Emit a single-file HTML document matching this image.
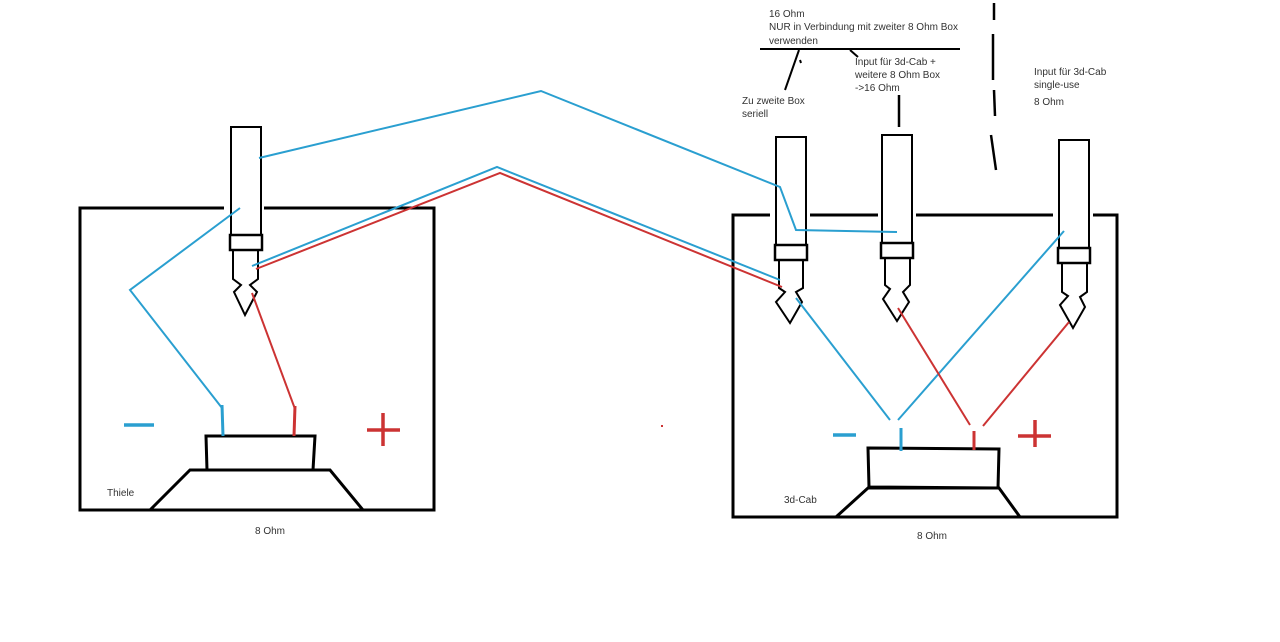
<!DOCTYPE html>
<html><head><meta charset="utf-8"><style>
html,body{margin:0;padding:0;background:#fff;}
svg{display:block;}
text{font-family:"Liberation Sans",sans-serif;font-size:10px;fill:#333;}
</style></head><body>
<svg width="1280" height="642" viewBox="0 0 1280 642" xmlns="http://www.w3.org/2000/svg">
<g fill="none" stroke="#000" stroke-width="3" stroke-linejoin="miter">
<!-- left box -->
<polyline points="224,208 80,208 80,510 434,510 434,208 264,208"/>
<!-- left jack -->
<rect x="231" y="127" width="30" height="108" stroke-width="2"/>
<rect x="230" y="235" width="32" height="15" stroke-width="2.5"/>
<polyline points="233,250 233,279 241,285 234,292 245,315 257,292 250,285 258,279 258,250" stroke-width="2"/>
<!-- left speaker -->
<polygon points="206,436 315,436 313,470 207,470" />
<polyline points="150,510 190,470 330,470 363,510"/>
<!-- right box -->
<polyline points="770,215 733,215 733,517 1117,517 1117,215 1093,215"/>
<line x1="810" y1="215" x2="878" y2="215"/>
<line x1="916" y1="215" x2="1053" y2="215"/>
<!-- right jacks -->
<rect x="776" y="137" width="30" height="108" stroke-width="2"/>
<rect x="775" y="245" width="32" height="15" stroke-width="2.5"/>
<polyline points="779,260 779,288 785,292 776,302 790,323 802,302 796,292 803,288 803,260" stroke-width="2"/>
<rect x="882" y="135" width="30" height="108" stroke-width="2"/>
<rect x="881" y="243" width="32" height="15" stroke-width="2.5"/>
<polyline points="885,258 885,285 890,289 883,299 897,321 909,302 903,292 910,285 910,258" stroke-width="2"/>
<rect x="1059" y="140" width="30" height="108" stroke-width="2"/>
<rect x="1058" y="248" width="32" height="15" stroke-width="2.5"/>
<polyline points="1062,263 1062,292 1068,296 1060,305 1073,328 1085,307 1080,297 1087,292 1087,263" stroke-width="2"/>
<!-- right speaker -->
<polygon points="868,448 999,449 998,488 869,487"/>
<polyline points="836,517 868,488 999,488 1020,517"/>
<!-- annotations -->
<line x1="760" y1="49" x2="960" y2="49" stroke-width="2"/>
<line x1="799" y1="50" x2="785" y2="90" stroke-width="2"/>
<line x1="850" y1="50" x2="858" y2="57" stroke-width="2"/>
<line x1="800" y1="60" x2="801" y2="63" stroke-width="2"/>
<line x1="899" y1="95" x2="899" y2="127" stroke-width="2.5"/>
<line x1="994" y1="3" x2="994" y2="20" stroke-width="2.5"/>
<line x1="993" y1="34" x2="993" y2="80" stroke-width="2.5"/>
<line x1="994" y1="90" x2="995" y2="116" stroke-width="2.5"/>
<line x1="991" y1="135" x2="996" y2="170" stroke-width="2.5"/>
</g>
<g fill="none" stroke="#2a9fd0" stroke-width="2">
<polyline points="259,158 541,91 780,187 796,230 897,232"/>
<polyline points="240,208 130,290 222,408"/>
<line x1="222" y1="405" x2="223" y2="436" stroke-width="3"/>
<polyline points="252,266 497,167 780,280"/>
<line x1="796" y1="298" x2="890" y2="420"/>
<line x1="898" y1="420" x2="1064" y2="231"/>
<line x1="901" y1="428" x2="901" y2="451" stroke-width="3"/>
<line x1="124" y1="425" x2="154" y2="425" stroke-width="3.5"/>
<line x1="833" y1="435" x2="856" y2="435" stroke-width="3.5"/>
</g>
<g fill="none" stroke="#cc3333" stroke-width="2">
<polyline points="256,269 500,173 782,287"/>
<polyline points="252,293 295,409"/>
<line x1="295" y1="406" x2="294" y2="436" stroke-width="3"/>
<polyline points="898,308 970,425"/>
<line x1="1069" y1="322" x2="983" y2="426"/>
<line x1="974" y1="431" x2="974" y2="450" stroke-width="3"/>
<line x1="367" y1="430" x2="400" y2="430" stroke-width="3.5"/>
<line x1="383" y1="413" x2="383" y2="446" stroke-width="3.5"/>
<line x1="1018" y1="436" x2="1051" y2="436" stroke-width="3.5"/>
<line x1="1035" y1="420" x2="1035" y2="447" stroke-width="3.5"/>
<line x1="661" y1="426" x2="663" y2="426" stroke-width="2"/>
</g>
<text x="769" y="17">16 Ohm</text>
<text x="769" y="30">NUR in Verbindung mit zweiter 8 Ohm Box</text>
<text x="769" y="44">verwenden</text>
<text x="855" y="65">Input für 3d-Cab +</text>
<text x="855" y="78">weitere 8 Ohm Box</text>
<text x="855" y="91">-&gt;16 Ohm</text>
<text x="742" y="104">Zu zweite Box</text>
<text x="742" y="117">seriell</text>
<text x="1034" y="75">Input für 3d-Cab</text>
<text x="1034" y="88">single-use</text>
<text x="1034" y="105">8 Ohm</text>
<text x="107" y="496">Thiele</text>
<text x="255" y="534">8 Ohm</text>
<text x="784" y="503">3d-Cab</text>
<text x="917" y="539">8 Ohm</text>
</svg>
</body></html>
